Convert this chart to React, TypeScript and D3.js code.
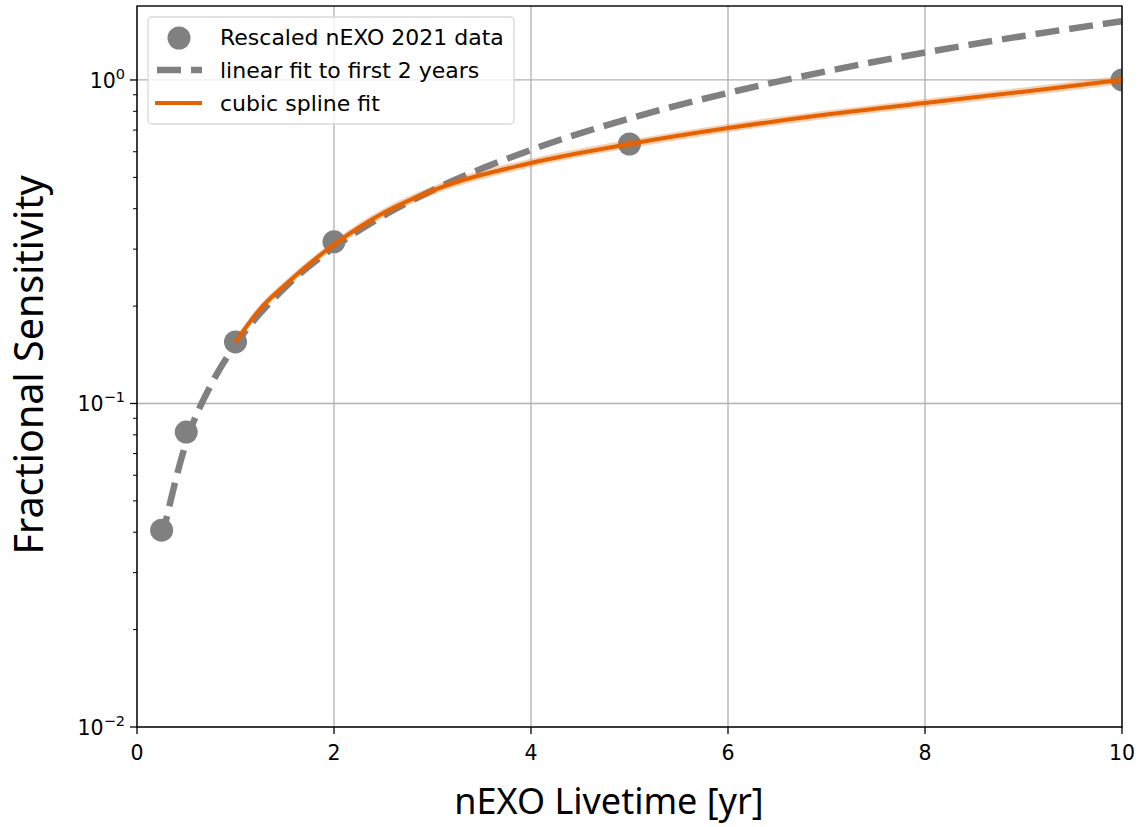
import React from "react";
import * as d3 from "d3";

// Data points (Rescaled nEXO 2021 data)
const dataX = [0.25, 0.5, 1, 2, 5, 10];
const dataY = [0.0406, 0.0816, 0.155, 0.316, 0.634, 1.0];

// Linear fit to first 2 years
const linX = [0.25, 0.5, 0.75, 1, 1.5, 2, 2.5, 3, 4, 5, 6, 7, 8, 9, 10];
const linY = [0.038, 0.076, 0.114, 0.152, 0.228, 0.304, 0.38, 0.456, 0.608, 0.76, 0.912, 1.064, 1.216, 1.368, 1.52];

// Cubic spline fit
const splX = [1, 1.25, 1.5, 2, 2.5, 3, 4, 5, 6, 7, 8, 9, 10];
const splY = [0.155, 0.196, 0.232, 0.31, 0.388, 0.455, 0.554, 0.634, 0.71, 0.782, 0.849, 0.92, 1.0];
const splLo = [0.150, 0.190, 0.225, 0.301, 0.376, 0.441, 0.537, 0.615, 0.689, 0.759, 0.824, 0.892, 0.97];
const splHi = [0.160, 0.202, 0.239, 0.319, 0.400, 0.469, 0.571, 0.653, 0.731, 0.805, 0.874, 0.948, 1.03];

const xTicks = [0, 2, 4, 6, 8, 10];
const yTickExps = [0, -1, -2];

const W = 1140;
const H = 827;
const L = 137, R = 1122, T = 6, B = 727;

export default function App() {
  const x = d3.scaleLinear().domain([0, 10]).range([L, R]);
  const y = d3.scaleLog().domain([0.01, 1.693]).range([B, T]);

  const line = d3
    .line<[number, number]>()
    .x((d) => x(d[0]))
    .y((d) => y(d[1]))
    .curve(d3.curveMonotoneX);

  const area = d3
    .area<[number, number, number]>()
    .x((d) => x(d[0]))
    .y0((d) => y(d[1]))
    .y1((d) => y(d[2]))
    .curve(d3.curveMonotoneX);

  const linPts = linX.map((v, i) => [v, linY[i]] as [number, number]);
  const splPts = splX.map((v, i) => [v, splY[i]] as [number, number]);
  const bandPts = splX.map((v, i) => [v, splLo[i], splHi[i]] as [number, number, number]);

  const minor: number[] = [];
  for (const dec of [0.01, 0.1, 1]) {
    for (let k = 2; k <= 9; k++) {
      const v = dec * k;
      if (v <= 1.693) minor.push(v);
    }
  }

  const font = "DejaVu Sans, sans-serif";
  const labelFont = "'Noto Sans', 'Open Sans', sans-serif";
  const gray = "#808080";
  const orange = "#e66100";

  return (
    <svg width={W} height={H} style={{ position: "absolute", left: 0, top: 0, background: "#fff" }}>
      <defs>
        <clipPath id="plotclip">
          <rect x={L} y={T} width={R - L} height={B - T} />
        </clipPath>
      </defs>
      <rect x={0} y={0} width={W} height={H} fill="#fff" />
      {/* grid */}
      <g stroke="#b0b0b0" strokeWidth={1.3}>
        {xTicks.map((t) => (
          <line key={"gx" + t} x1={x(t)} x2={x(t)} y1={T} y2={B} />
        ))}
        {yTickExps.map((e) => (
          <line key={"gy" + e} x1={L} x2={R} y1={y(Math.pow(10, e))} y2={y(Math.pow(10, e))} />
        ))}
      </g>
      <g clipPath="url(#plotclip)">
        {dataX.map((v, i) => (
          <circle key={"p" + i} cx={x(v)} cy={y(dataY[i])} r={11.5} fill={gray} />
        ))}
        <path d={line(linPts) || ""} fill="none" stroke={gray} strokeWidth={6.5} strokeDasharray="24,10" />
        <path d={area(bandPts) || ""} fill={orange} fillOpacity={0.3} stroke="none" />
        <path d={line(splPts) || ""} fill="none" stroke={orange} strokeWidth={4} />
      </g>
      {/* spines */}
      <rect x={L} y={T} width={R - L} height={B - T} fill="none" stroke="#000" strokeWidth={1.4} />
      {/* x ticks */}
      {xTicks.map((t) => (
        <g key={"xt" + t}>
          <line x1={x(t)} x2={x(t)} y1={B} y2={B + 7} stroke="#000" strokeWidth={1.3} />
          <text x={x(t)} y={760} fontSize={20.5} fontFamily={font} textAnchor="middle" fill="#000">
            {t}
          </text>
        </g>
      ))}
      {/* y ticks */}
      {yTickExps.map((e) => (
        <g key={"yt" + e}>
          <line x1={L - 7} x2={L} y1={y(Math.pow(10, e))} y2={y(Math.pow(10, e))} stroke="#000" strokeWidth={1.3} />
          <text x={L - 12} y={y(Math.pow(10, e)) + 8} fontSize={20.5} fontFamily={font} textAnchor="end" fill="#000">
            10
            <tspan dy={-9} fontSize={14.5}>
              {e === 0 ? "0" : "\u2212" + Math.abs(e)}
            </tspan>
          </text>
        </g>
      ))}
      {minor.map((v, i) => (
        <line key={"mn" + i} x1={L - 4} x2={L} y1={y(v)} y2={y(v)} stroke="#000" strokeWidth={1} />
      ))}
      {/* axis labels */}
      <text x={609} y={814} fontSize={36} fontFamily={labelFont} textAnchor="middle" fill="#000">
        nEXO Livetime [yr]
      </text>
      <text
        transform={`translate(43, 365) rotate(-90)`}
        fontSize={39.5}
        fontFamily={labelFont}
        textAnchor="middle"
        fill="#000"
      >
        Fractional Sensitivity
      </text>
      {/* legend */}
      <g>
        <rect x={148} y={17} width={366} height={107} rx={4} fill="#fff" fillOpacity={0.8} stroke="#d9d9d9" strokeWidth={1.3} />
        <circle cx={179} cy={38} r={11.5} fill={gray} />
        <line x1={157} x2={202} y1={70} y2={70} stroke={gray} strokeWidth={6.5} strokeDasharray="24,10" />
        <line x1={155} x2={202} y1={103} y2={103} stroke={orange} strokeWidth={4} />
        <text x={220} y={45} fontSize={22} fontFamily={font} fill="#000">Rescaled nEXO 2021 data</text>
        <text x={220} y={78} fontSize={22} fontFamily={font} fill="#000">linear fit to first 2 years</text>
        <text x={220} y={111} fontSize={22} fontFamily={font} fill="#000">cubic spline fit</text>
      </g>
    </svg>
  );
}
